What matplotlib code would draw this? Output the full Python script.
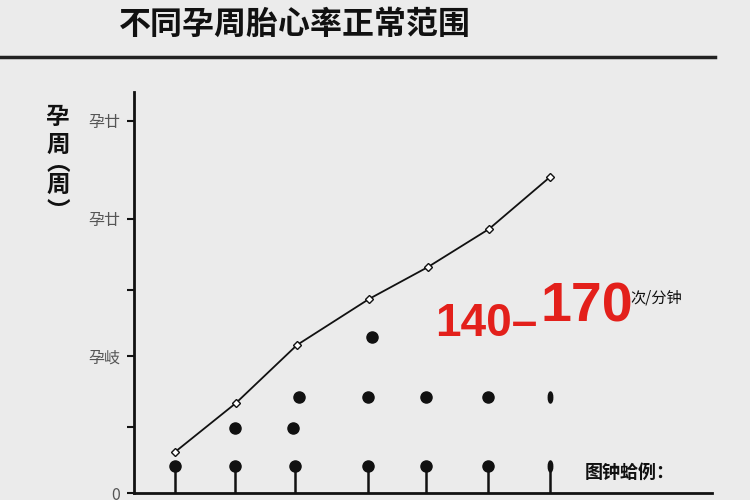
import numpy as np
import matplotlib.pyplot as plt
from matplotlib.path import Path
from matplotlib.transforms import Affine2D

plt.rcParams['font.family'] = ['Noto Sans CJK SC', 'DejaVu Sans']

# data (x: axis position, y: axis units)
line_x = [41, 102, 163, 235, 294, 355, 416]
line_y = [4.1, 9.0, 14.8, 19.4, 22.6, 26.4, 31.6]

base_x = [41, 101, 161, 234, 292, 354]
base_y = [2.7, 2.7, 2.7, 2.7, 2.7, 2.7]
mid_x = [101, 159]
mid_y = [6.5, 6.5]
upper_x = [165, 234, 292, 354]
upper_y = [9.6, 9.6, 9.6, 9.6]
top_x = [238]
top_y = [15.6]
edge_x = [416, 416]
edge_y = [2.7, 9.6]

ytick_pos = [37.2, 27.4, 20.3, 13.7, 6.6, 0]
ytick_lab = ['孕廿', '孕廿', '', '孕岐', '', '0']

ylabel_chars = ['孕', '周', '︵', '周', '︶']

bg = '#ebebeb'
fig = plt.figure(figsize=(7.5, 5), dpi=100, facecolor=bg)
ax = fig.add_axes([134/750, 7/500, 578/750, 401/500], facecolor=bg)

# stems below the bottom row of dots
ax.vlines(base_x + [edge_x[0]], 0, base_y + [edge_y[0]], color='#111', lw=1.8, zorder=2)

ax.plot(line_x, line_y, color='#111', lw=1.3, marker='D', ms=4,
        mfc='white', mec='#111', mew=1, zorder=4)

dot_x = base_x + mid_x + upper_x + top_x
dot_y = base_y + mid_y + upper_y + top_y
ax.plot(dot_x, dot_y, 'o', color='#111', ms=8, zorder=3)

# narrow dots in the last column
narrow = Path.unit_circle().transformed(Affine2D().scale(0.4, 1.0))
ax.plot(edge_x, edge_y, linestyle='none', marker=narrow, color='#111', ms=8, zorder=3)

ax.set_xlim(0, 578)
ax.set_ylim(0, 40.1)
ax.set_xticks([])
ax.set_yticks(ytick_pos)
ax.set_yticklabels(ytick_lab, fontsize=11.5, color='#555')
ax.tick_params(axis='y', direction='out', length=5, width=1.5, color='#111', pad=5)
for s in ['top', 'right']:
    ax.spines[s].set_visible(False)
for s in ['left', 'bottom']:
    ax.spines[s].set_linewidth(2)
    ax.spines[s].set_color('#111')

# title and rule
fig.text(295/750, 1 - 25/500, '不同孕周胎心率正常范围', ha='center', va='center',
         fontsize=23, fontweight='bold', color='#111')
fig.add_artist(plt.Line2D([0, 715/750], [1 - 57/500, 1 - 57/500], color='#222', lw=2.5))

# y label, stacked vertically
ylab_y = [117, 145, 163, 185, 212]
for ch, yy in zip(ylabel_chars, ylab_y):
    fig.text(58/750, 1 - yy/500, ch, ha='center', va='center',
             fontsize=17, fontweight='bold', color='#111')

# red range annotation
red = '#e3201b'
fig.text(435/750, 1 - 336/500, '140–', ha='left', va='baseline', fontsize=33,
         fontweight='bold', color=red, family=['Liberation Sans Narrow', 'Liberation Sans'])
fig.text(541/750, 1 - 321/500, '170', ha='left', va='baseline', fontsize=40,
         fontweight='bold', color=red, family=['Liberation Sans Narrow', 'Liberation Sans'])
fig.text(630/750, 1 - 298/500, '次/分钟', ha='left', va='center', fontsize=11, color='#111')

fig.text(585/750, 1 - 472/500, '图钟蛤例：', ha='left', va='center', fontsize=13,
         color='#111', fontweight='bold')

fig.savefig('out.png', dpi=100, facecolor=bg)
